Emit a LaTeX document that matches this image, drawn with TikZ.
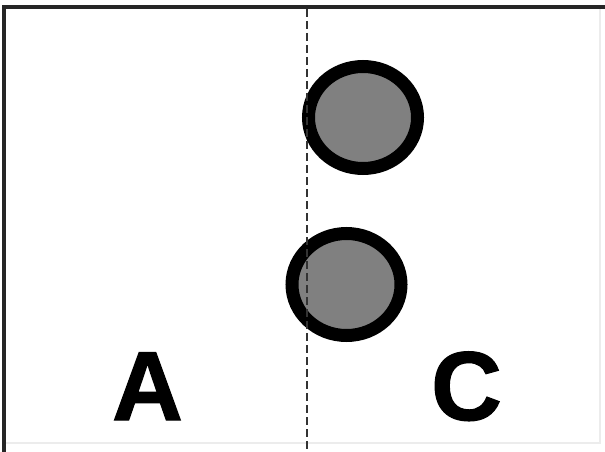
\documentclass[tikz,border=0pt]{standalone}
\usepackage{fontspec}
\setmainfont{Liberation Sans}
\newfontfamily\heavyfont[FakeBold=1.2]{Liberation Sans Bold}
\usetikzlibrary{shapes.geometric}
\definecolor{disc}{RGB}{128,128,128}
\definecolor{faint}{RGB}{236,236,236}
\tikzset{
    ring/.style={ellipse, draw=black, fill=disc, line width=13pt,
        minimum width=109pt, minimum height=102pt, inner sep=0pt},
    zone/.style={font=\fontsize{98}{98}\heavyfont, inner sep=0pt, anchor=base}
}

\begin{document}
\begin{tikzpicture}[x=1pt, y=-1pt]
    \useasboundingbox (0,0) rectangle (605,452);
    % Khung
    \draw[faint, line width=1.5pt] (4,7) rectangle (600,443);
    \draw[line width=4pt, black!85] (4,452) -- (4,7) -- (605,7);
    % Hai hình tròn
    \node[ring] (top) at (363,117.5) {};
    \node[ring] (bot) at (346.5,284.5) {};
    % Đường ranh giới
    \coordinate (up) at (307,9);
    \coordinate (down) at (307,452);
    \draw[line width=1.5pt, black!80, dash pattern=on 8pt off 4pt] (up) -- (down);
    % Nhãn
    \node[zone] (A) at (147.5,420) {A};
    \node[zone] (C) at (466.5,420) {C};
\end{tikzpicture}
\end{document}
